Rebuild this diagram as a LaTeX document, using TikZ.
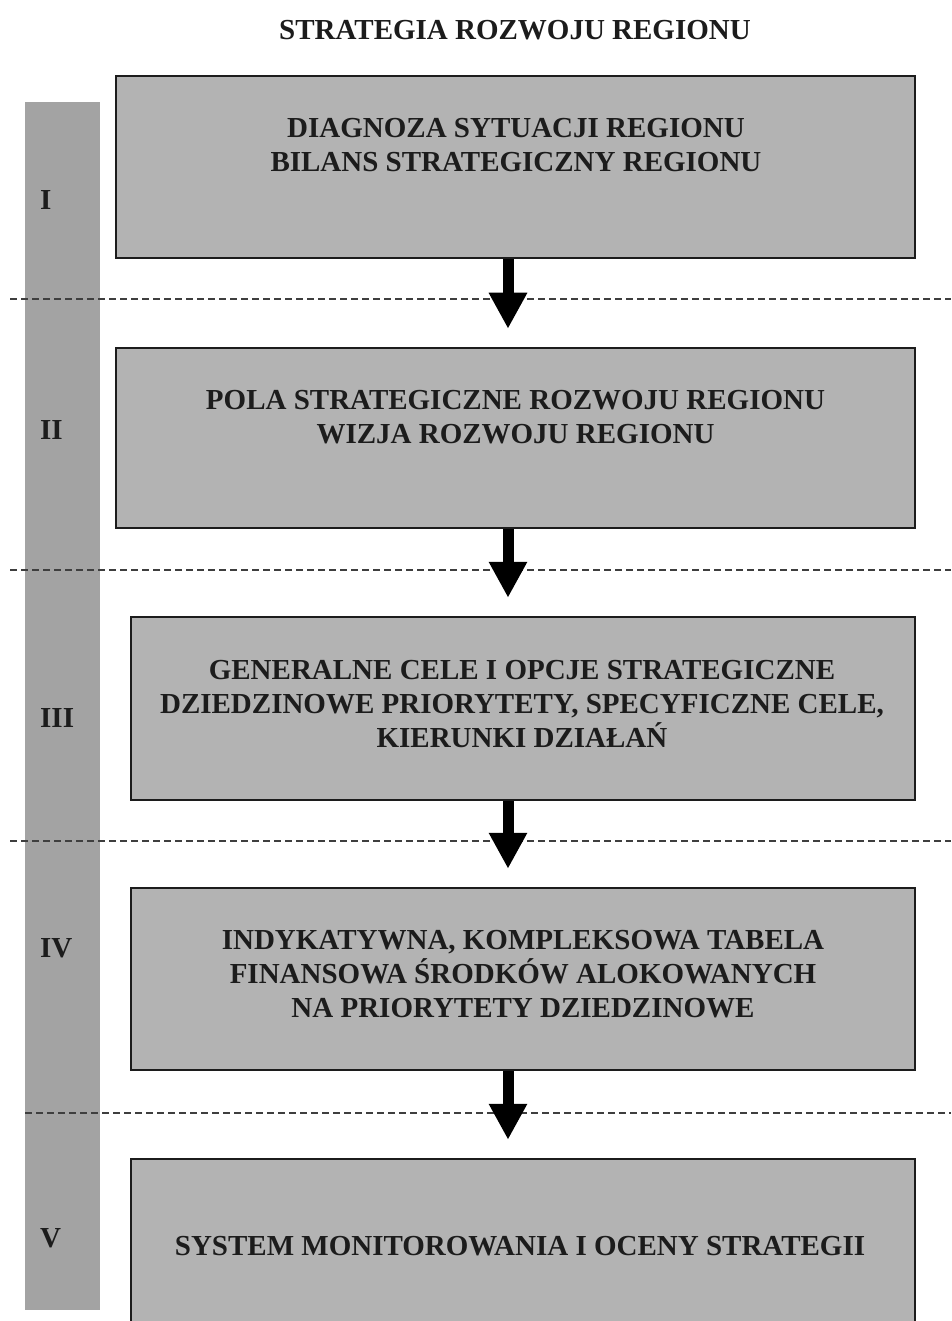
\documentclass[tikz,border=0pt]{standalone}
\usepackage{fontspec}
\setmainfont{Liberation Serif}
\usetikzlibrary{arrows.meta}
\definecolor{boxgray}{HTML}{B3B3B3}
\definecolor{bargray}{HTML}{A3A3A3}
\definecolor{ink}{HTML}{1C1C1C}
\tikzset{
  stagebox/.style={draw=ink, line width=2.5pt, fill=boxgray, rectangle, inner sep=0pt},
  stagetext/.style={text=ink, font=\bfseries\fontsize{29}{34}\selectfont, align=center, inner sep=0pt},
  numeral/.style={text=ink, font=\bfseries\fontsize{29}{34}\selectfont, inner sep=0pt, anchor=west},
  separator/.style={draw=ink!85, line width=1.4pt, dash pattern=on 7pt off 4pt},
  flow/.style={draw=black, line width=11pt, -{Triangle[width=36pt,length=36pt]}, shorten >=18pt},
}
\begin{document}
\begin{tikzpicture}[x=1pt, y=-1pt]
\path[use as bounding box, clip] (0,0) rectangle (951,1321);
\fill[white] (0,0) rectangle (951,1321);

% side bar with stage numbers
\node[fill=bargray, minimum width=75pt, minimum height=1208pt, inner sep=0pt] (bar) at (62.5,706) {};

% stage separators
\draw[separator] (10,299) -- (951,299);
\draw[separator] (10,570) -- (951,570);
\draw[separator] (10,841) -- (951,841);
\draw[separator] (25,1113) -- (951,1113);

% title
\node[stagetext] (title) at (515,30) {STRATEGIA ROZWOJU REGIONU};

% stage boxes
\node[stagebox, minimum width=799pt, minimum height=182pt] (b1) at (515.5,167) {};
\node[stagebox, minimum width=799pt, minimum height=180pt] (b2) at (515.5,438) {};
\node[stagebox, minimum width=784pt, minimum height=183pt] (b3) at (523,708.5) {};
\node[stagebox, minimum width=784pt, minimum height=182pt] (b4) at (523,979) {};
\node[stagebox, minimum width=784pt, minimum height=190pt] (b5) at (523,1254) {};

% box contents
\node[stagetext] (t1) at (516,145) {DIAGNOZA SYTUACJI REGIONU\\BILANS STRATEGICZNY REGIONU};
\node[stagetext] (t2) at (515.5,417) {POLA STRATEGICZNE ROZWOJU REGIONU\\WIZJA ROZWOJU REGIONU};
\node[stagetext] (t3) at (522,704) {GENERALNE CELE I OPCJE STRATEGICZNE\\DZIEDZINOWE PRIORYTETY, SPECYFICZNE CELE,\\KIERUNKI DZIAŁAŃ};
\node[stagetext] (t4) at (523,974) {INDYKATYWNA, KOMPLEKSOWA TABELA\\FINANSOWA ŚRODKÓW ALOKOWANYCH\\NA PRIORYTETY DZIEDZINOWE};
\node[stagetext] (t5) at (520,1246) {SYSTEM MONITOROWANIA I OCENY STRATEGII};

% stage numbers
\node[numeral] (n1) at (40,200) {I};
\node[numeral] (n2) at (40,430) {II};
\node[numeral] (n3) at (40,718) {III};
\node[numeral] (n4) at (40,948) {IV};
\node[numeral] (n5) at (40,1238) {V};

% flow between stages
\draw[flow] ([xshift=-7.5pt]b1.south) -- ([xshift=-7.5pt]b1.south |- b2.north);
\draw[flow] ([xshift=-7.5pt]b2.south) -- ([xshift=-7.5pt]b2.south |- b3.north);
\draw[flow] ([xshift=-15pt]b3.south) -- ([xshift=-15pt]b3.south |- b4.north);
\draw[flow] ([xshift=-15pt]b4.south) -- ([xshift=-15pt]b4.south |- b5.north);
\end{tikzpicture}
\end{document}
